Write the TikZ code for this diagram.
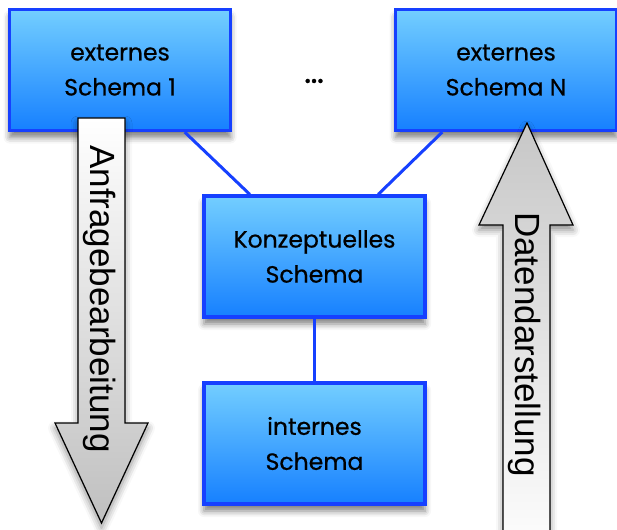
\documentclass[tikz,border=0pt]{standalone}
\usepackage{fontspec}
\setmainfont{Poppins}[FakeBold=0.6]
\newfontfamily\arrowfont{Liberation Sans}
\usetikzlibrary{shadows.blur % for the soft shadows under boxes and arrows
}
\definecolor{schemalight}{RGB}{115,206,255}
\definecolor{schemadark}{RGB}{22,128,255}
\definecolor{schemaline}{RGB}{22,64,255}

\begin{document}
\begin{tikzpicture}[x=1pt, y=1pt, node distance=187pt,
  schema/.style={draw=schemaline, line width=3.2pt, top color=schemalight,
    bottom color=schemadark, minimum width=221pt, minimum height=121pt,
    align=center, font=\fontsize{23.5}{35}\selectfont,
    blur shadow={shadow xshift=0pt, shadow yshift=-7pt,
      shadow blur radius=6pt, shadow opacity=50}},
  link/.style={draw=schemaline, line width=3pt},
  flow/.style={draw=black, line width=1.2pt, line join=miter,
    blur shadow={shadow xshift=0pt, shadow yshift=-5pt,
      shadow blur radius=7pt, shadow opacity=45}},
  flowtext/.style={font=\arrowfont\fontsize{35}{35}\selectfont,
    rotate=-90, anchor=base}]
  \useasboundingbox (0,0) rectangle (617,-529);

  \node[schema] (ext1) at (120,-70) {externes\\Schema 1};
    \node[schema, right of=ext1, node distance=386pt] (extN) {externes\\Schema N};
    \node (dots) at (314,-81) {\fontsize{34}{34}\selectfont\ldots};
  \node[schema] (konz) at (314.5,-256.5) {Konzeptuelles\\Schema};
    \node[schema, below of=konz] (int) {internes\\Schema};

    \draw[link] (ext1) -- (konz);
    \draw[link] (extN) -- (konz);
    \draw[link] (konz) -- (int);

    \draw[flow, top color=white, bottom color=black!25] (78,-118) -- (125,-118)
      -- (125,-423) -- (148,-423) -- (101.5,-523) -- (55,-423) -- (78,-423) -- cycle;
    \node[flowtext] (query) at (90,-299) {Anfragebearbeitung};

    \draw[flow, top color=black!22, bottom color=white] (527,-123) -- (573,-225)
      -- (550,-225) -- (550,-560) -- (503,-560) -- (503,-225) -- (479,-225) -- cycle;
    \node[flowtext] (result) at (515,-344.5) {Datendarstellung};

  \end{tikzpicture}
\end{document}
